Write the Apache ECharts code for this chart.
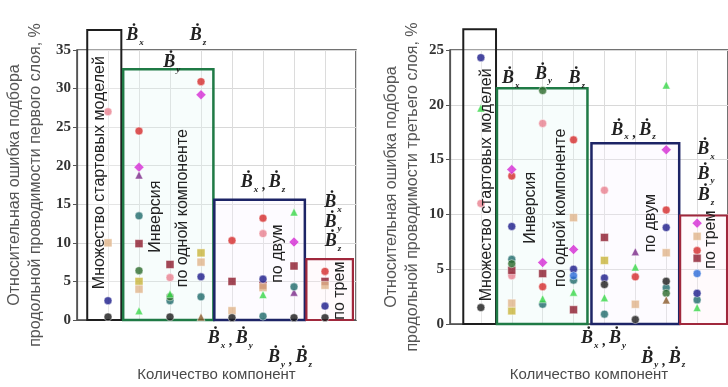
<!DOCTYPE html>
<html><head><meta charset="utf-8">
<script src="https://cdn.jsdelivr.net/npm/echarts@6/dist/echarts.min.js"></script>
<style>html,body{margin:0;padding:0;background:#fff}#c{width:728px;height:387px}</style>
</head><body><div id="c"></div>
<script>
// ---------- data ----------
const columns = [1, 2, 3, 4, 5, 6, 7, 8];
const leftTicks = [0, 5, 10, 15, 20, 25, 30, 35];
const rightTicks = [0, 5, 10, 15, 20, 25];
const yTitleLeft = 'Относительная ошибка подбора\nпродольной проводимости первого слоя, %';
const yTitleRight = 'Относительная ошибка подбора\nпродольной проводимости третьего слоя, %';
const xTitle = 'Количество компонент';

// marker groups (one value per column, null = none)
const seriesNames = ['red', 'magenta', 'pink', 'purple', 'teal', 'darkred', 'darkgreen', 'olive', 'tan', 'green', 'navy', 'black', 'blue', 'brown'];
const leftValues = [
  [null, 24.5, null, 30.9, 10.3, 13.2, null, 6.3],
  [null, 19.8, null, 29.2, null, null, 10.1, null],
  [27.0, null, 5.5, null, null, 11.2, null, null],
  [null, 18.8, null, null, null, null, 3.6, null],
  [null, 13.5, 2.5, 3.0, null, 0.5, 4.3, null],
  [null, 9.9, 7.2, null, 5.0, 4.5, 7.0, 5.0],
  [null, 6.4, 3.0, null, null, null, null, null],
  [null, 5.0, null, 8.7, null, null, null, null],
  [10.0, 4.0, null, 7.5, 1.2, 4.2, null, 4.5],
  [null, 1.2, 3.4, null, null, 3.3, 14.0, null],
  [2.5, null, null, 5.6, null, 5.3, null, 1.8],
  [0.4, null, 0.4, null, 0.3, null, 0.3, 0.3],
  [null, null, null, null, null, null, null, null],
  [null, null, null, 0.4, null, null, null, null]
];
const rightValues = [
  [null, 13.5, 3.4, 16.8, null, 4.3, 10.4, 6.7],
  [null, 14.1, 5.6, 6.8, null, null, 15.9, 9.2],
  [11.0, 4.4, 18.3, null, 12.2, null, null, null],
  [null, null, null, null, null, 6.6, null, null],
  [null, 5.9, 1.8, 4.0, 0.9, null, 3.3, 2.2],
  [null, 4.9, 4.6, 1.3, 7.9, null, null, 6.0],
  [null, 5.5, 21.3, null, null, null, 2.8, null],
  [null, 1.2, null, null, 5.8, null, null, null],
  [null, 1.9, null, 9.7, null, 1.8, 6.5, 8.0],
  [19.7, null, 2.3, 2.9, 2.4, 5.2, 21.8, 1.5],
  [24.3, 8.9, null, 5.0, 4.2, null, 8.8, 2.8],
  [1.5, null, null, null, 3.6, 0.4, 3.9, null],
  [null, null, null, 4.4, null, null, null, 4.6],
  [null, null, null, null, null, null, 2.2, null]
];

// grouping frames: left edge, right edge, top value
const leftBoxX0 = [0.33, 1.49, 4.43, 7.4];
const leftBoxX1 = [1.43, 4.4, 7.35, 8.9];
const leftBoxTop = [37.6, 32.5, 15.6, 7.9];
const rightBoxX0 = [0.43, 1.52, 4.58, 7.45];
const rightBoxX1 = [1.49, 4.45, 7.42, 8.97];
const rightBoxTop = [26.9, 21.5, 16.5, 9.9];

// notes
const noteTexts = ['Множество стартовых моделей', 'Инверсия', 'по одной компоненте', 'по двум', 'по трем'];
const leftNoteX = [0.74, 2.52, 3.42, 6.48, 8.48];
const leftNoteY = [19.1, 13.4, 14.5, 8.6, 3.8];
const rightNoteX = [1.19, 2.61, 3.58, 6.48, 8.45];
const rightNoteY = [12.7, 10.6, 10.6, 9.2, 7.7];

// component labels (subscripts)
const leftMathLabels = ['x', 'z', 'y', 'x,z', 'x', 'y', 'z', 'x,y', 'y,z'];
const leftMathX = [1.87, 3.9, 3.06, 6.0, 8.26, 8.26, 8.26, 4.94, 6.87];
const leftMathY = [36.9, 36.9, 33.4, 17.8, 15.2, 12.7, 10.2, -2.4, -4.9];
const rightMathLabels = ['x', 'y', 'z', 'x,z', 'x', 'y', 'z', 'x,y', 'y,z'];
const rightMathX = [1.97, 3.03, 4.1, 5.94, 8.29, 8.29, 8.29, 4.97, 6.9];
const rightMathY = [22.4, 22.8, 22.4, 17.7, 15.9, 13.7, 11.7, -1.3, -3.1];

// ---------- styles ----------
const seriesColors = ['#d42a2a', '#d42ad4', '#e8808e', '#7a2a8a', '#1e6a6a', '#8c1a2c', '#2a6a2a', '#c8b43a', '#e0b48a', '#3ad84a', '#1a1a8a', '#1a1a1a', '#2a6ad8', '#8a5a2a'];
const seriesSymbols = ['circle', 'diamond', 'circle', 'triangle', 'circle', 'rect', 'circle', 'rect', 'rect', 'triangle', 'circle', 'circle', 'circle', 'triangle'];
const boxColors = ['#1e1e1e', '#1f7a45', '#1d2466', '#a0283c'];
const boxFills = ['rgba(255,255,255,0.35)', 'rgba(230,250,245,0.3)', 'rgba(250,242,255,0.3)', 'rgba(255,242,246,0.35)'];
const boxWidths = [2, 2.5, 2.5, 2.2];

const serifFont = "'Liberation Serif','DejaVu Serif',serif";
const sansFont = "'Liberation Sans',Arial,sans-serif";

function mathText(s) {
  return s.split(',').map(c => '{b|\u1E02}{s|' + c + '}').join('{c| , }');
}
const mathRich = {
  b: {fontFamily: serifFont, fontStyle: 'italic', fontWeight: 'bold', fontSize: 18, fill: '#222'},
  s: {fontFamily: serifFont, fontStyle: 'italic', fontWeight: 'bold', fontSize: 9, fill: '#222', padding: [14, 0, 0, 1]},
  c: {fontFamily: serifFont, fontWeight: 'bold', fontSize: 14, fill: '#222', padding: [6, 0, 0, 0]}
};

const chart = echarts.init(document.getElementById('c'));

function yAxisFor(gi, ticks, title, gap) {
  return {
    type: 'value', gridIndex: gi, min: ticks[0], max: ticks[ticks.length - 1], interval: ticks[1] - ticks[0],
    name: title, nameLocation: 'middle', nameGap: gap,
    nameTextStyle: {fontFamily: sansFont, fontSize: 16, color: '#555', lineHeight: 21, align: 'center'},
    axisLine: {show: true, lineStyle: {color: '#555', width: 1.2}},
    axisTick: {show: true, length: 4, lineStyle: {color: '#555'}},
    axisLabel: {fontFamily: serifFont, fontWeight: 'bold', fontSize: 15, color: '#333', margin: 6},
    splitLine: {show: true, lineStyle: {color: '#d8d8d8', width: 1}}
  };
}
function xAxisFor(gi, gap) {
  return {
    type: 'value', gridIndex: gi, min: 0, max: 9, interval: 1,
    name: xTitle, nameLocation: 'middle', nameGap: gap,
    nameTextStyle: {fontFamily: sansFont, fontSize: 15, color: '#4a4a4a'},
    axisLine: {show: true, lineStyle: {color: '#555', width: 1.2}},
    axisTick: {show: false}, axisLabel: {show: false},
    splitLine: {show: true, lineStyle: {color: '#dcdcdc', width: 1}}
  };
}

function boxSeries(gi, x0, x1, top) {
  return {
    type: 'custom', xAxisIndex: gi, yAxisIndex: gi, clip: false, z: 3, silent: true,
    data: x0.map((v, i) => [v, x1[i], top[i]]),
    renderItem(params, api) {
      const i = params.dataIndex;
      const p0 = api.coord([api.value(0), api.value(2)]);
      const p1 = api.coord([api.value(1), 0]);
      return {type: 'rect', shape: {x: p0[0], y: p0[1], width: p1[0] - p0[0], height: p1[1] - p0[1]},
        style: {fill: boxFills[i], stroke: boxColors[i], lineWidth: boxWidths[i]}};
    }
  };
}
function noteSeries(gi, xs, ys) {
  return {
    type: 'custom', xAxisIndex: gi, yAxisIndex: gi, clip: false, z: 6, silent: true,
    data: xs.map((v, i) => [v, ys[i]]),
    renderItem(params, api) {
      const p = api.coord([api.value(0), api.value(1)]);
      return {type: 'text', x: p[0], y: p[1], rotation: Math.PI / 2,
        style: {text: noteTexts[params.dataIndex], fontFamily: sansFont, fontSize: 16, fill: '#222', align: 'center', verticalAlign: 'middle'}};
    }
  };
}
function mathSeries(gi, labels, xs, ys) {
  return {
    type: 'custom', xAxisIndex: gi, yAxisIndex: gi, clip: false, z: 6, silent: true,
    data: xs.map((v, i) => [v, ys[i]]),
    renderItem(params, api) {
      const p = api.coord([api.value(0), api.value(1)]);
      return {type: 'text', x: p[0], y: p[1],
        style: {text: mathText(labels[params.dataIndex]), rich: mathRich, align: 'center', verticalAlign: 'middle'}};
    }
  };
}
function scatterSeries(gi, values) {
  return values.map((vals, k) => ({
    type: 'scatter', name: seriesNames[k], xAxisIndex: gi, yAxisIndex: gi, z: 5,
    symbol: seriesSymbols[k], symbolSize: seriesSymbols[k] === 'diamond' ? 10 : 8,
    itemStyle: {color: seriesColors[k], borderColor: 'rgba(255,255,255,0.6)', borderWidth: 1},
    data: columns.map((c, i) => vals[i] == null ? null : [c, vals[i]]).filter(d => d)
  }));
}

chart.setOption({
  animation: false,
  backgroundColor: '#fff',
  grid: [
    {left: 77, top: 50, width: 279, height: 278, show: true, borderColor: '#444', borderWidth: 1.5, backgroundColor: 'transparent'},
    {left: 450, top: 50, width: 278, height: 282, show: true, borderColor: '#444', borderWidth: 1.5, backgroundColor: 'transparent'}
  ],
  xAxis: [xAxisFor(0, 47), xAxisFor(1, 43)],
  yAxis: [yAxisFor(0, leftTicks, yTitleLeft, 31), yAxisFor(1, rightTicks, yTitleRight, 27)],
  series: [
    boxSeries(0, leftBoxX0, leftBoxX1, leftBoxTop),
    boxSeries(1, rightBoxX0, rightBoxX1, rightBoxTop),
    ...scatterSeries(0, leftValues),
    ...scatterSeries(1, rightValues),
    noteSeries(0, leftNoteX, leftNoteY),
    noteSeries(1, rightNoteX, rightNoteY),
    mathSeries(0, leftMathLabels, leftMathX, leftMathY),
    mathSeries(1, rightMathLabels, rightMathX, rightMathY)
  ]
});
</script></body></html>
